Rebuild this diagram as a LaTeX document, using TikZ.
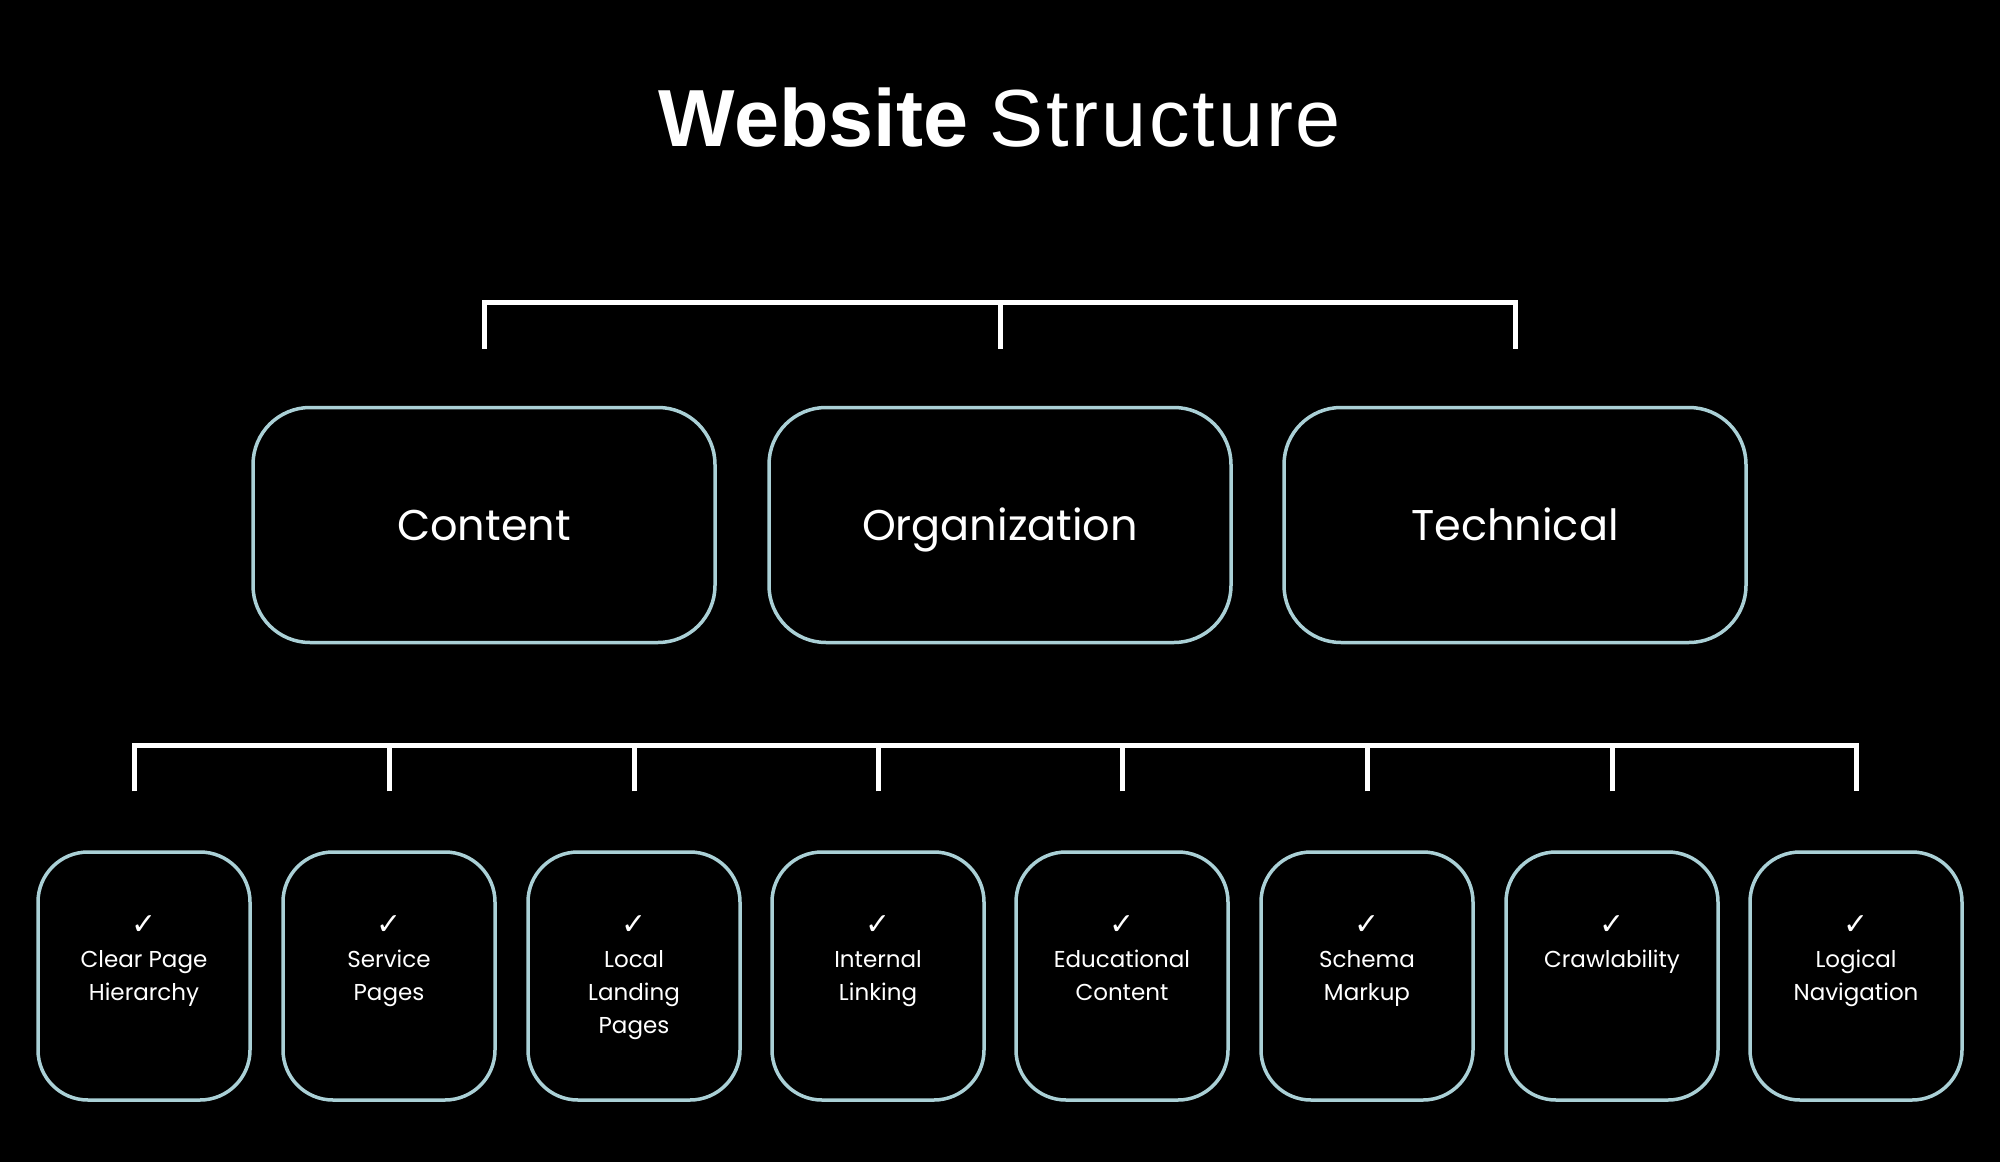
\documentclass[tikz,border=0pt]{standalone}
\usepackage{fontspec}
\setmainfont{Poppins}
\newfontfamily\checkfont{DejaVu Sans}
\newfontfamily\titlebold{Liberation Sans}
\newfontfamily\titlereg[LetterSpace=3.5]{Liberation Sans}
\definecolor{edgeblue}{RGB}{170,208,214}
\begin{document}
\begin{tikzpicture}[x=1pt,y=-1pt,
  mainbox/.style={draw=edgeblue, line width=3.5pt, rounded corners=57pt, minimum width=462pt, minimum height=235pt, inner sep=0pt, text=white, text height=30pt, text depth=0pt, font=\fontsize{43}{50}\selectfont},
  leafbox/.style={draw=edgeblue, line width=3.5pt, rounded corners=50pt, minimum width=212pt, minimum height=248pt, inner sep=0pt},
  leaftext/.style={anchor=north, align=center, text=white, inner sep=0pt, font=\fontsize{23}{33}\selectfont},
  bracket/.style={draw=white, line width=5pt}]
\fill[black] (0,0) rectangle (2000,1162);
\useasboundingbox (0,0) rectangle (2000,1162);
\node[text=white, font=\fontsize{81}{90}\selectfont, anchor=base, inner sep=0pt] (title) at (1000,146) {{\titlebold\bfseries Website} {\titlereg Structure}};
\node[mainbox] (content) at (484,525) {Content};
\node[mainbox] (org) at (1000,525) {Organization};
\node[mainbox] (tech) at (1515,525) {Technical};
\draw[bracket] ([yshift=57pt]content.north) -- ++(0,-46) -| ([yshift=57pt]tech.north);
\draw[bracket] ([yshift=57pt]org.north) -- ++(0,-46);
\foreach \i/\x/\t in {1/144/{Clear Page\\Hierarchy},2/389/{Service\\Pages},3/634/{Local\\Landing\\Pages},4/878/{Internal\\Linking},5/1122/{Educational\\Content},6/1367/{Schema\\Markup},7/1612/{Crawlability},8/1856/{Logical\\Navigation}}{
  \node[leafbox] (b\i) at (\x,976) {};
  \node[leaftext] (t\i) at (\x,915) {{\checkfont\fontsize{30}{33}\selectfont ✓}\\\t};
}
\draw[bracket] ([xshift=-10pt,yshift=59pt]b1.north) -- ++(0,-46) -| ([yshift=59pt]b8.north);
\foreach \i in {2,...,7}{
  \draw[bracket] ([yshift=59pt]b\i.north) -- ++(0,-46);
}
\end{tikzpicture}
\end{document}
